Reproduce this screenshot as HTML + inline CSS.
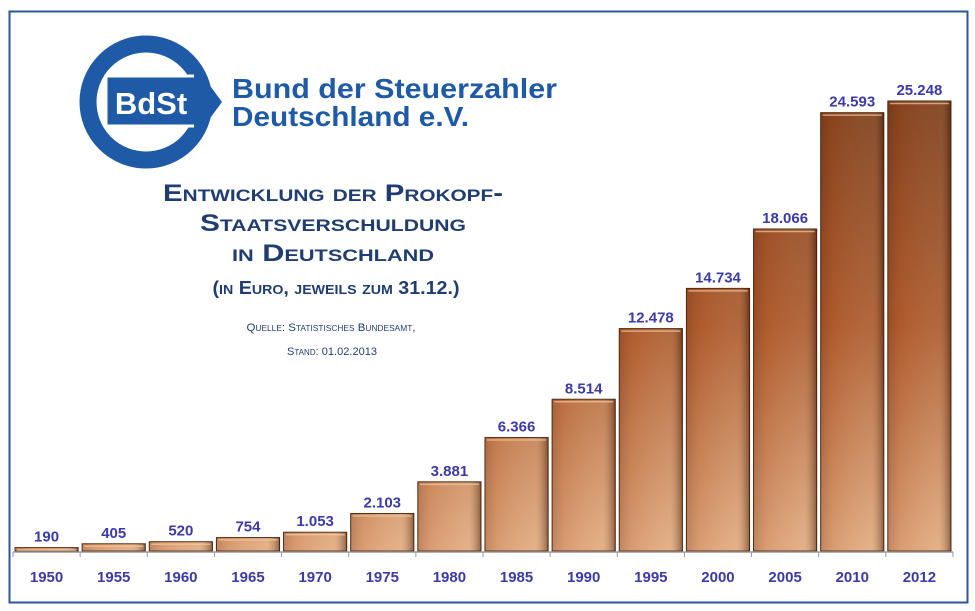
<!DOCTYPE html>
<html><head><meta charset="utf-8"><style>
body{margin:0;background:#fff;}
svg{display:block;font-family:"Liberation Sans",Arial,sans-serif;}
</style></head><body>
<svg width="975" height="611" viewBox="0 0 975 611">
<defs>
<linearGradient id="gv" gradientUnits="userSpaceOnUse" x1="0" y1="101" x2="0" y2="551">
<stop offset="0" stop-color="#74381a"/><stop offset="0.5" stop-color="#a8582e"/><stop offset="1" stop-color="#e2b08a"/>
</linearGradient>
<linearGradient id="gh" x1="0" y1="0" x2="1" y2="0">
<stop offset="0" stop-color="#7a3a18" stop-opacity="0.35"/><stop offset="0.2" stop-color="#c0632a" stop-opacity="0.25"/><stop offset="0.8" stop-color="#f0c090" stop-opacity="0.15"/><stop offset="1" stop-color="#3a1a08" stop-opacity="0.5"/>
</linearGradient>
</defs>
<rect x="9.5" y="11.5" width="958" height="591" fill="#fff" stroke="#2e5597" stroke-width="2"/>
<g>
<circle cx="146" cy="102" r="58" fill="none" stroke="#1e5aa6" stroke-width="17"/>
<rect x="106" y="76" width="92" height="50" fill="#1e5aa6" stroke="#fff" stroke-width="3"/>
<polygon points="194,64 222,102 194,140" fill="#1e5aa6"/>
<text x="151" y="114" font-size="31" font-weight="bold" fill="#fff" text-anchor="middle">BdSt</text>
<text x="232" y="98" font-size="28" font-weight="bold" fill="#1e5aa6" textLength="325" lengthAdjust="spacingAndGlyphs">Bund der Steuerzahler</text>
<text x="232" y="126" font-size="28" font-weight="bold" fill="#1e5aa6" textLength="237" lengthAdjust="spacingAndGlyphs">Deutschland e.V.</text>
</g>
<g fill="#1f3d73" font-weight="bold" text-anchor="middle" style="font-variant:small-caps">
<text x="333" y="201" font-size="24" textLength="340" lengthAdjust="spacingAndGlyphs">Entwicklung der Prokopf-</text>
<text x="333" y="231" font-size="24" textLength="266" lengthAdjust="spacingAndGlyphs">Staatsverschuldung</text>
<text x="333" y="261" font-size="24" textLength="202" lengthAdjust="spacingAndGlyphs">in Deutschland</text>
<text x="336" y="294" font-size="18" textLength="247" lengthAdjust="spacingAndGlyphs">(in Euro, jeweils zum 31.12.)</text>
</g>
<g fill="#1f3d73" text-anchor="middle" style="font-variant:small-caps" font-size="11">
<text x="331" y="331" textLength="169" lengthAdjust="spacingAndGlyphs">Quelle: Statistisches Bundesamt,</text>
<text x="332" y="355" textLength="90" lengthAdjust="spacingAndGlyphs">Stand: 01.02.2013</text>
</g>
<g id="bars"></g>
<line x1="13" y1="552" x2="953" y2="552" stroke="#999" stroke-width="1.5"/>
<g id="ticks"></g>
</svg>
<script>
const years=["1950","1955","1960","1965","1970","1975","1980","1985","1990","1995","2000","2005","2010","2012"];
const values=[190,405,520,754,1053,2103,3881,6366,8514,12478,14734,18066,24593,25248];
const valueLabels=["190","405","520","754","1.053","2.103","3.881","6.366","8.514","12.478","14.734","18.066","24.593","25.248"];
const NS="http://www.w3.org/2000/svg";
const x0=13,bw=67.14,base=551,scale=450/25248;
const xs=i=>x0+i*bw;
const ys=v=>base-v*scale;
const gb=document.getElementById('bars'),gt=document.getElementById('ticks');
function mk(tag,attrs,parent){const e=document.createElementNS(NS,tag);for(const k in attrs)e.setAttribute(k,attrs[k]);parent.appendChild(e);return e;}
values.forEach((v,i)=>{
 const x=xs(i)+2,w=bw-4,y=ys(v),h=base-y;
 const r=mk('rect',{x:x,y:y,width:w,height:h,fill:'url(#gv)',stroke:'#4a230c','stroke-width':1},gb);
 
 
 mk('rect',{x:x,y:y,width:w,height:h,fill:'url(#gh)'},gb);
 mk('line',{x1:x+2,y1:y+2.5,x2:x+w-2,y2:y+2.5,stroke:'#f2c8a0','stroke-width':1.5,'stroke-opacity':0.7},gb);
 const t=mk('text',{x:x+w/2,y:y-6,'font-size':15,'font-weight':'bold',fill:'#3b3aa8','text-anchor':'middle'},gb);
 t.textContent=valueLabels[i];
 
 
 const yl=mk('text',{x:xs(i)+bw/2,y:582,'font-size':15,'font-weight':'bold',fill:'#3b3aa8','text-anchor':'middle'},gt);
 yl.textContent=years[i];
 
 
});
for(let i=0;i<=years.length;i++){mk('line',{x1:xs(i),y1:552,x2:xs(i),y2:557,stroke:'#999','stroke-width':1},gt);}
</script>
</body></html>
